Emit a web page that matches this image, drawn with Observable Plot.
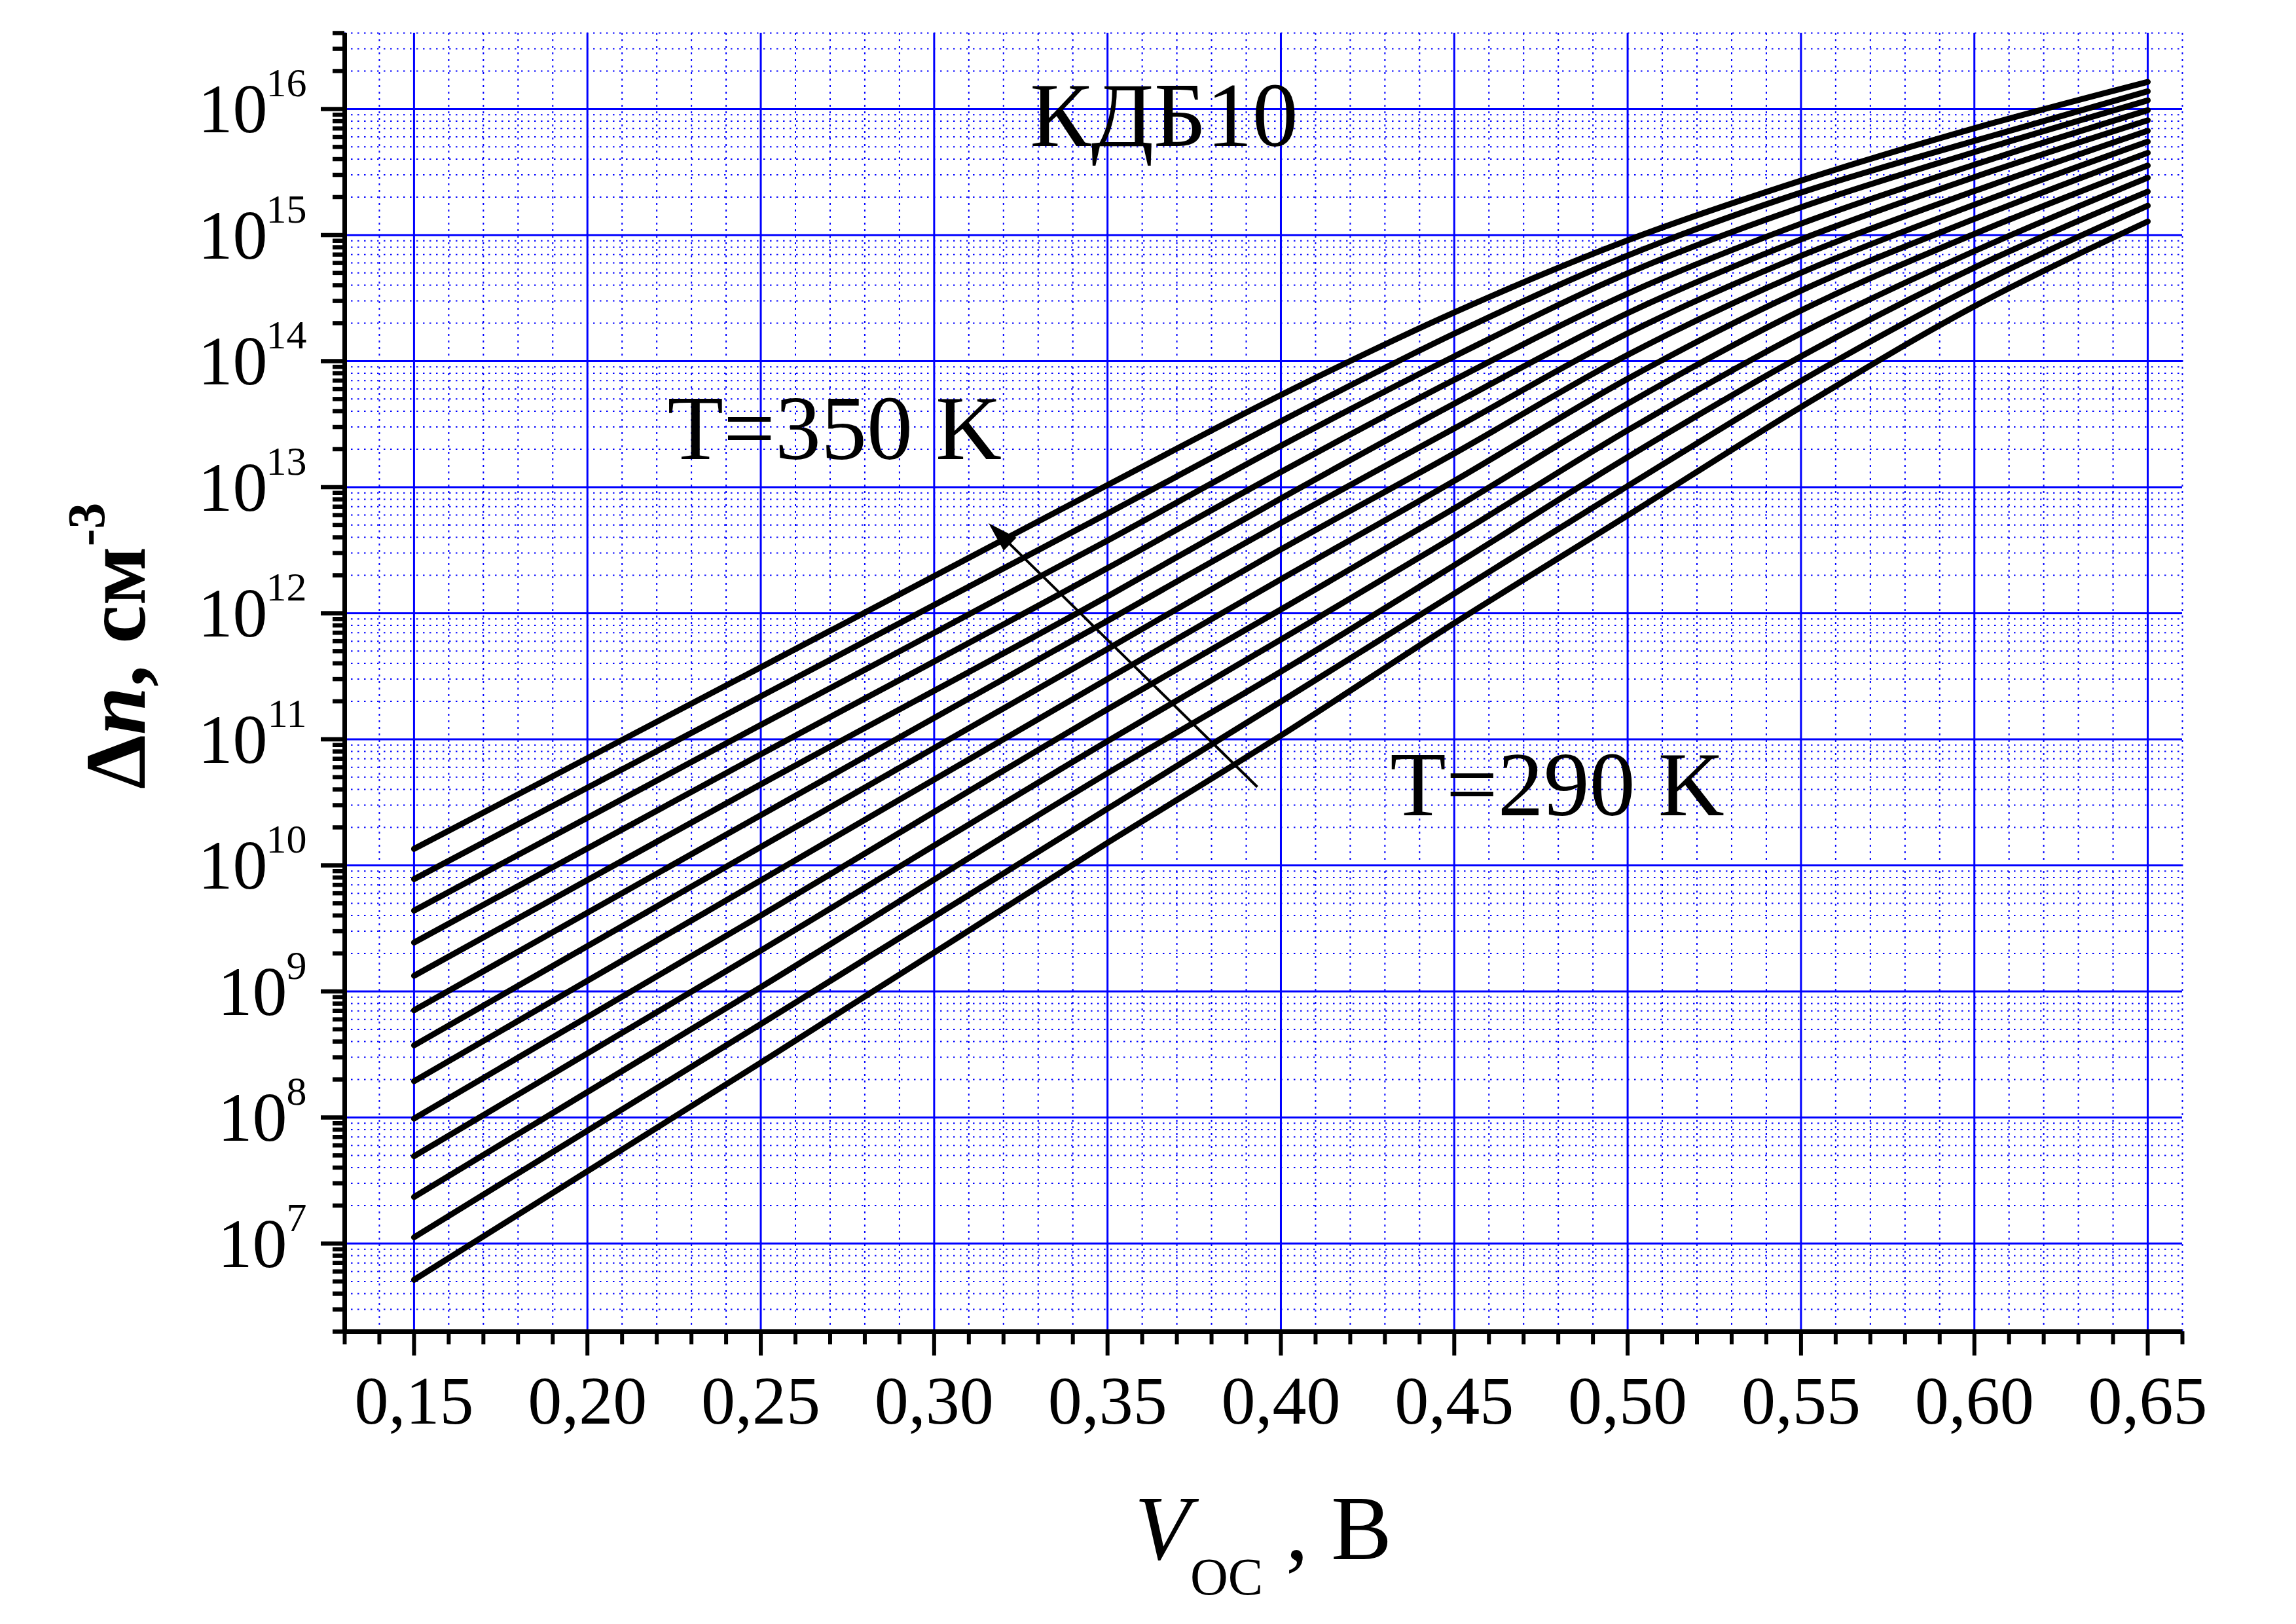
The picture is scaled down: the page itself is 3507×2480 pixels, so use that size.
<!DOCTYPE html>
<html>
<head>
<meta charset="utf-8">
<script src="https://cdn.jsdelivr.net/npm/d3@7"></script>
<script src="https://cdn.jsdelivr.net/npm/@observablehq/plot@0.6"></script>
<style>
  html, body { margin: 0; padding: 0; background: #ffffff; }
  #chart svg { display: block; }
</style>
</head>
<body>
<div id="chart"></div>
<script>
// ---------- data ----------
const vocV = [0.15, 0.25, 0.35, 0.40, 0.45, 0.50, 0.55, 0.60, 0.65];
const temperaturesK = [350, 345, 340, 335, 330, 325, 320, 315, 310, 305, 300, 295, 290];
const dn350 = [1.35e10, 3.72e11, 1.04e13, 5.38e13, 2.43e14, 9.08e14, 2.70e15, 7.03e15, 1.64e16];
const dn345 = [7.78e9, 2.19e11, 6.18e12, 3.33e13, 1.65e14, 6.87e14, 2.17e15, 5.58e15, 1.38e16];
const dn340 = [4.37e9, 1.30e11, 3.77e12, 2.13e13, 1.09e14, 4.97e14, 1.66e15, 4.55e15, 1.17e16];
const dn335 = [2.44e9, 7.60e10, 2.28e12, 1.32e13, 7.10e13, 3.43e14, 1.23e15, 3.61e15, 9.77e15];
const dn330 = [1.33e9, 4.39e10, 1.36e12, 8.13e12, 4.59e13, 2.40e14, 9.23e14, 2.88e15, 8.13e15];
const dn325 = [7.08e8, 2.50e10, 8.71e11, 5.20e12, 2.92e13, 1.66e14, 6.84e14, 2.23e15, 6.71e15];
const dn320 = [3.73e8, 1.40e10, 5.20e11, 3.21e12, 1.85e13, 1.12e14, 5.02e14, 1.74e15, 5.51e15];
const dn315 = [1.94e8, 7.60e9, 3.01e11, 1.86e12, 1.12e13, 7.23e13, 3.62e14, 1.34e15, 4.49e15];
const dn310 = [9.79e7, 4.00e9, 1.73e11, 1.07e12, 6.78e12, 4.59e13, 2.52e14, 1.02e15, 3.56e15];
const dn305 = [4.92e7, 2.11e9, 9.66e10, 6.18e11, 4.04e12, 2.82e13, 1.66e14, 7.45e14, 2.85e15];
const dn300 = [2.34e7, 1.08e9, 5.38e10, 3.44e11, 2.40e12, 1.73e13, 1.09e14, 5.52e14, 2.21e15];
const dn295 = [1.12e7, 5.50e8, 2.81e10, 1.99e11, 1.43e12, 1.02e13, 6.97e13, 3.92e14, 1.71e15];
const dn290 = [5.15e6, 2.72e8, 1.51e10, 1.07e11, 8.34e11, 5.96e12, 4.32e13, 2.72e14, 1.28e15];

// axes
const xDomain = [0.13, 0.66];
const yDomain = [2e6, 4e16];
const xMajor = [0.15, 0.20, 0.25, 0.30, 0.35, 0.40, 0.45, 0.50, 0.55, 0.60, 0.65];
const xTickLabels = ["0,15", "0,20", "0,25", "0,30", "0,35", "0,40", "0,45", "0,50", "0,55", "0,60", "0,65"];
const xMinor = [0.13, 0.14, 0.16, 0.17, 0.18, 0.19, 0.21, 0.22, 0.23, 0.24, 0.26, 0.27, 0.28, 0.29,
                0.31, 0.32, 0.33, 0.34, 0.36, 0.37, 0.38, 0.39, 0.41, 0.42, 0.43, 0.44, 0.46, 0.47,
                0.48, 0.49, 0.51, 0.52, 0.53, 0.54, 0.56, 0.57, 0.58, 0.59, 0.61, 0.62, 0.63, 0.64, 0.66];
const yExpTwoDigit = [10, 11, 12, 13, 14, 15, 16];
const yExpOneDigit = [7, 8, 9];
const yMantissas = [2, 3, 4, 5, 6, 7, 8, 9];
const yMinorDecades = [6, 7, 8, 9, 10, 11, 12, 13, 14, 15, 16];

// annotations (data coordinates)
const labelSample = ["КДБ10"];
const labelSampleV = [0.3663];
const labelSampleN = [5.1e15];
const labelHot = ["T=350 K"];
const labelHotV = [0.3195];
const labelHotN = [1.68e13];
const labelCold = ["T=290 K"];
const labelColdV = [0.4315];
const labelColdN = [2.48e10];
const arrowV = [0.3933, 0.3158];   // from, to
const arrowN = [4.16e10, 5.15e12];

// ---------- build tables ----------
const series = [dn350, dn345, dn340, dn335, dn330, dn325, dn320, dn315, dn310, dn305, dn300, dn295, dn290];
const rows = [];
temperaturesK.forEach((T, i) => vocV.forEach((v, j) => rows.push({T, v, n: series[i][j]})));

const yMajor = [...yExpOneDigit, ...yExpTwoDigit].map(e => Math.pow(10, e));
const yMinor = [];
yMinorDecades.forEach(d => yMantissas.forEach(m => {
  const val = m * Math.pow(10, d);
  if (val >= yDomain[0] && val <= yDomain[1] * 1.0001) yMinor.push(val);
}));
const xMinorGrid = xMinor.filter(v => v > xDomain[0] + 1e-9);

const BLUE = "#0000ff";
const FONT = "'Liberation Serif', 'Times New Roman', Times, serif";

// arrow drawn through the plot scales
function arrowMark(index, scales) {
  const x1 = scales.x(arrowV[0]), y1 = scales.y(arrowN[0]);
  const x2 = scales.x(arrowV[1]), y2 = scales.y(arrowN[1]);
  const dx = x2 - x1, dy = y2 - y1;
  const len = Math.hypot(dx, dy);
  const ux = dx / len, uy = dy / len;
  const headLen = 46, headHalf = 14;
  const bx = x2 - ux * headLen, by = y2 - uy * headLen;
  const g = d3.create("svg:g");
  g.append("line")
    .attr("x1", x1).attr("y1", y1)
    .attr("x2", bx + ux * 4).attr("y2", by + uy * 4)
    .attr("stroke", "black").attr("stroke-width", 4);
  g.append("path")
    .attr("d", `M${x2},${y2}L${bx - uy * headHalf},${by + ux * headHalf}L${bx + uy * headHalf},${by - ux * headHalf}Z`)
    .attr("fill", "black");
  return g.node();
}

const chart = Plot.plot({
  width: 3507,
  height: 2480,
  marginLeft: 526,
  marginRight: 174,
  marginTop: 50,
  marginBottom: 447,
  style: { fontFamily: FONT, background: "#ffffff", color: "black" },
  x: { type: "linear", domain: xDomain },
  y: { type: "log", domain: yDomain },
  marks: [
    // grid
    Plot.gridX(xMinorGrid, { stroke: BLUE, strokeOpacity: 1, strokeWidth: 2, strokeDasharray: "3,7" }),
    Plot.gridY(yMinor, { stroke: BLUE, strokeOpacity: 1, strokeWidth: 2, strokeDasharray: "2.5,7.5" }),
    Plot.gridX(xMajor, { stroke: BLUE, strokeOpacity: 1, strokeWidth: 3 }),
    Plot.gridY(yMajor, { stroke: BLUE, strokeOpacity: 1, strokeWidth: 3 }),
    // curves
    Plot.line(rows, { x: "v", y: "n", z: "T", stroke: "black", strokeWidth: 9, curve: "monotone-x",
                      strokeLinecap: "round", strokeLinejoin: "round" }),
    // axes lines
    Plot.ruleX([xDomain[0]], { stroke: "black", strokeWidth: 7 }),
    Plot.ruleY([yDomain[0]], { stroke: "black", strokeWidth: 7 }),
    // ticks
    Plot.axisX(xMinor, { anchor: "bottom", tickSize: 20, tickFormat: () => "", strokeWidth: 6, label: null }),
    Plot.axisX(xMajor, { anchor: "bottom", tickSize: 37, tickPadding: 30, strokeWidth: 6, fontSize: 104,
                         tickFormat: d => xTickLabels[xMajor.indexOf(d)], label: null }),
    Plot.axisY(yMinor, { anchor: "left", tickSize: 18, tickFormat: () => "", strokeWidth: 6.5, label: null }),
    Plot.axisY(yMajor, { anchor: "left", tickSize: 36, tickFormat: () => "", strokeWidth: 6.5, label: null }),
    // y tick labels 10^n
    Plot.text(yExpTwoDigit, { y: e => Math.pow(10, e), text: () => "10", frameAnchor: "left",
                              textAnchor: "end", lineAnchor: "bottom", dx: -118, dy: 36, fontSize: 106, fill: "black" }),
    Plot.text(yExpOneDigit, { y: e => Math.pow(10, e), text: () => "10", frameAnchor: "left",
                              textAnchor: "end", lineAnchor: "bottom", dx: -88, dy: 36, fontSize: 106, fill: "black" }),
    Plot.text([...yExpOneDigit, ...yExpTwoDigit], { y: e => Math.pow(10, e), text: e => String(e), frameAnchor: "left",
                              textAnchor: "end", lineAnchor: "bottom", dx: -58, dy: -19, fontSize: 62, fill: "black" }),
    // annotations
    Plot.text(labelSample, { x: () => labelSampleV[0], y: () => labelSampleN[0], text: d => d,
                             textAnchor: "middle", lineAnchor: "bottom", fontSize: 140, fill: "black" }),
    Plot.text(labelHot, { x: () => labelHotV[0], y: () => labelHotN[0], text: d => d,
                          textAnchor: "end", lineAnchor: "bottom", fontSize: 140, fill: "black" }),
    Plot.text(labelCold, { x: () => labelColdV[0], y: () => labelColdN[0], text: d => d,
                           textAnchor: "start", lineAnchor: "bottom", fontSize: 140, fill: "black" }),
    arrowMark
  ]
});

// axis titles with sub/superscripts
const svg = d3.select(chart);
const frameCx = 526 + (3507 - 526 - 174) / 2;
const xt = svg.append("text")
  .attr("x", frameCx).attr("y", 2381)
  .attr("text-anchor", "middle")
  .attr("font-family", FONT).attr("font-size", 139).attr("fill", "black");
xt.append("tspan").attr("font-style", "italic").text("V");
xt.append("tspan").attr("font-size", 80).attr("dy", 54).text("OC");
xt.append("tspan").attr("dy", -54).text(" , В");

const yt = svg.append("text")
  .attr("transform", "translate(221,1205) rotate(-90)")
  .attr("text-anchor", "start")
  .attr("font-family", FONT).attr("font-size", 132).attr("font-weight", "bold").attr("fill", "black");
yt.append("tspan").text("Δ");
yt.append("tspan").attr("font-style", "italic").text("n");
yt.append("tspan").text(", см");
yt.append("tspan").attr("font-size", 80).attr("dy", -62).text("-3");

document.getElementById("chart").appendChild(chart);
</script>
</body>
</html>
